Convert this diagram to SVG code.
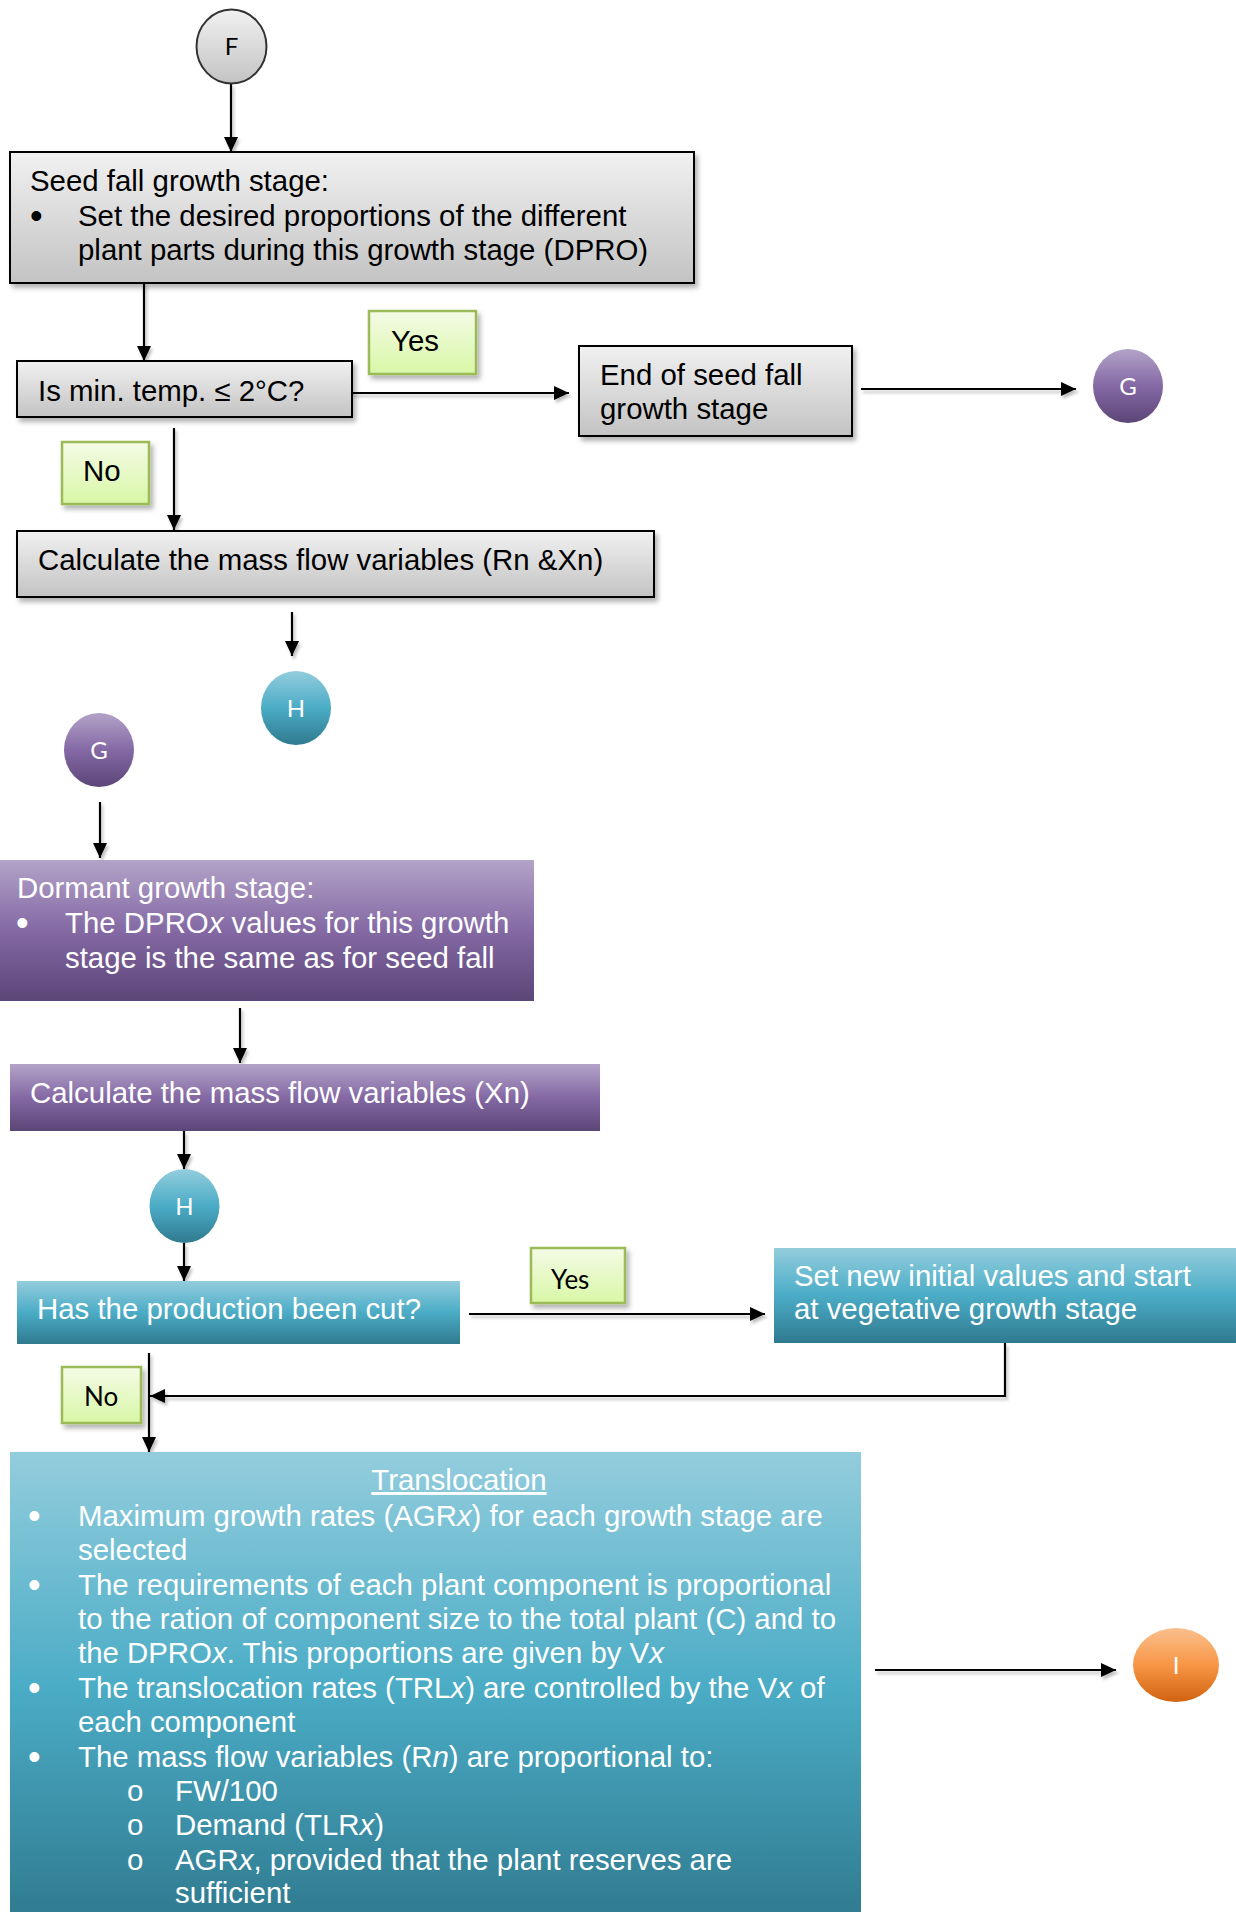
<svg xmlns="http://www.w3.org/2000/svg" width="1236" height="1912" viewBox="0 0 1236 1912">
  <defs>
    <linearGradient id="gGray" x1="0" y1="0" x2="0" y2="1">
      <stop offset="0" stop-color="#f1f1f1"/>
      <stop offset="1" stop-color="#c3c3c3"/>
    </linearGradient>
    <linearGradient id="gGreen" x1="0" y1="0" x2="0" y2="1">
      <stop offset="0" stop-color="#f4fbe6"/>
      <stop offset="1" stop-color="#d8f7a6"/>
    </linearGradient>
    <linearGradient id="gPurple" x1="0" y1="0" x2="0" y2="1">
      <stop offset="0" stop-color="#b3a3c8"/>
      <stop offset="0.5" stop-color="#8469a4"/>
      <stop offset="1" stop-color="#5c4577"/>
    </linearGradient>
    <linearGradient id="gTeal" x1="0" y1="0" x2="0" y2="1">
      <stop offset="0" stop-color="#93cddd"/>
      <stop offset="0.5" stop-color="#4bacc6"/>
      <stop offset="1" stop-color="#2f7a8f"/>
    </linearGradient>
    <linearGradient id="gOrange" x1="0" y1="0" x2="0" y2="1">
      <stop offset="0" stop-color="#fbc08e"/>
      <stop offset="0.5" stop-color="#f79646"/>
      <stop offset="1" stop-color="#d0630f"/>
    </linearGradient>
    <filter id="shadow" x="-10%" y="-10%" width="130%" height="140%">
      <feDropShadow dx="3" dy="4" stdDeviation="2.5" flood-color="#000" flood-opacity="0.3"/>
    </filter>
    <filter id="lineShadow" x="-5%" y="-50%" width="110%" height="200%">
      <feDropShadow dx="2" dy="3" stdDeviation="1.5" flood-color="#000" flood-opacity="0.25"/>
    </filter>
    <marker id="arrow" markerUnits="userSpaceOnUse" markerWidth="15" markerHeight="14" viewBox="0 0 15 14" refX="15" refY="7" orient="auto">
      <path d="M0,0 L15,7 L0,14 z" fill="#000"/>
    </marker>
    <style>
      .t { font-family: "Liberation Sans", Arial, sans-serif; font-size: 29.4px; }
      .b { font-family: "Liberation Sans", Arial, sans-serif; font-size: 36px; }
      .dark { fill: #000; }
      .light { fill: #fff; }
      .lbl { font-family: Lato, "Open Sans", sans-serif; font-size: 26px; fill: #000; }
      .circ { font-family: Lato, "Open Sans", sans-serif; font-size: 24px; text-anchor: middle; }
      .gray { fill: url(#gGray); stroke: #000; stroke-width: 2; filter: url(#shadow); }
      .green { fill: url(#gGreen); stroke: #9bbb59; stroke-width: 2.5; filter: url(#shadow); }
      .purple { fill: url(#gPurple); }
      .teal { fill: url(#gTeal); }
      .conn { fill: none; stroke: #000; stroke-width: 2.2; }
    </style>
  </defs>

  <!-- connectors -->
  <g id="connectors" filter="url(#lineShadow)">
    <line class="conn" x1="231" y1="84" x2="231" y2="152" marker-end="url(#arrow)"/>
    <line class="conn" x1="144" y1="283" x2="144" y2="361" marker-end="url(#arrow)"/>
    <line class="conn" x1="339" y1="393" x2="569" y2="393" marker-end="url(#arrow)"/>
    <line class="conn" x1="861" y1="389" x2="1076" y2="389" marker-end="url(#arrow)"/>
    <line class="conn" x1="174" y1="428" x2="174" y2="530" marker-end="url(#arrow)"/>
    <line class="conn" x1="292" y1="612" x2="292" y2="656" marker-end="url(#arrow)"/>
    <line class="conn" x1="100" y1="802" x2="100" y2="858" marker-end="url(#arrow)"/>
    <line class="conn" x1="240" y1="1008" x2="240" y2="1063" marker-end="url(#arrow)"/>
    <line class="conn" x1="184" y1="1131" x2="184" y2="1169" marker-end="url(#arrow)"/>
    <line class="conn" x1="184" y1="1243" x2="184" y2="1281" marker-end="url(#arrow)"/>
    <line class="conn" x1="469" y1="1314" x2="765" y2="1314" marker-end="url(#arrow)"/>
    <polyline class="conn" points="1005,1343 1005,1396 150,1396" marker-end="url(#arrow)"/>
    <line class="conn" x1="149" y1="1353" x2="149" y2="1452" marker-end="url(#arrow)"/>
    <line class="conn" x1="875" y1="1670" x2="1116" y2="1670" marker-end="url(#arrow)"/>
  </g>

  <!-- connector F -->
  <g id="node-F">
    <ellipse cx="231.5" cy="46.5" rx="35" ry="37" fill="url(#gGray)" stroke="#333" stroke-width="2"/>
    <text class="circ dark" x="231.5" y="55">F</text>
  </g>

  <!-- seed fall stage -->
  <g id="node-seedfall">
    <rect class="gray" x="10" y="152" width="684" height="131"/>
    <text class="t dark" x="30" y="191">Seed fall growth stage:</text>
    <text class="b dark" x="30" y="228">•</text>
    <text class="t dark" x="78" y="226">Set the desired proportions of the different</text>
    <text class="t dark" x="78" y="260">plant parts during this growth stage (DPRO)</text>
  </g>

  <g id="node-mintemp">
    <rect class="gray" x="17" y="361" width="335" height="56"/>
    <text class="t dark" x="38" y="401">Is min. temp. ≤ 2°C?</text>
  </g>

  <g id="label-yes1">
    <rect class="green" x="369" y="311" width="107" height="63"/>
    <text class="t dark" x="391" y="351">Yes</text>
  </g>

  <g id="node-endseedfall">
    <rect class="gray" x="579" y="346" width="273" height="90"/>
    <text class="t dark" x="600" y="385">End of seed fall</text>
    <text class="t dark" x="600" y="419">growth stage</text>
  </g>

  <g id="node-G1">
    <ellipse cx="1128" cy="386" rx="35" ry="37" fill="url(#gPurple)"/>
    <text class="circ light" x="1128" y="395">G</text>
  </g>

  <g id="label-no1">
    <rect class="green" x="62" y="442" width="87" height="62"/>
    <text class="t dark" x="83" y="481">No</text>
  </g>

  <g id="node-calc-rnxn">
    <rect class="gray" x="17" y="531" width="637" height="66"/>
    <text class="t dark" x="38" y="570">Calculate the mass flow variables (Rn &amp;Xn)</text>
  </g>

  <g id="node-H1">
    <ellipse cx="296" cy="708" rx="35" ry="37" fill="url(#gTeal)"/>
    <text class="circ light" x="296" y="717">H</text>
  </g>

  <g id="node-G2">
    <ellipse cx="99" cy="750" rx="35" ry="37" fill="url(#gPurple)"/>
    <text class="circ light" x="99" y="759">G</text>
  </g>

  <!-- dormant stage -->
  <g id="node-dormant">
    <rect class="purple" x="0" y="860" width="534" height="141"/>
    <text class="t light" x="17" y="898">Dormant growth stage:</text>
    <text class="b light" x="16" y="935">•</text>
    <text class="t light" x="65" y="933">The DPRO<tspan font-style="italic">x</tspan> values for this growth</text>
    <text class="t light" x="65" y="968">stage is the same as for seed fall</text>
  </g>

  <g id="node-calc-xn">
    <rect class="purple" x="10" y="1064" width="590" height="67"/>
    <text class="t light" x="30" y="1103">Calculate the mass flow variables (Xn)</text>
  </g>

  <g id="node-H2">
    <ellipse cx="184.5" cy="1206" rx="35" ry="37" fill="url(#gTeal)"/>
    <text class="circ light" x="184.5" y="1215">H</text>
  </g>

  <g id="node-cut">
    <rect class="teal" x="17" y="1281" width="443" height="63"/>
    <text class="t light" x="37" y="1319">Has the production been cut?</text>
  </g>

  <g id="label-yes2">
    <rect class="green" x="531" y="1248" width="94" height="55"/>
    <text class="lbl" x="551" y="1289">Yes</text>
  </g>

  <g id="node-reset">
    <rect class="teal" x="774" y="1248" width="462" height="95"/>
    <text class="t light" x="794" y="1286">Set new initial values and start</text>
    <text class="t light" x="794" y="1319">at vegetative growth stage</text>
  </g>

  <g id="label-no2">
    <rect class="green" x="62" y="1367" width="79" height="56"/>
    <text class="lbl" x="84" y="1406">No</text>
  </g>

  <!-- translocation -->
  <g id="node-translocation">
    <rect class="teal" x="10" y="1452" width="851" height="470"/>
    <text class="t light" x="459" y="1490" text-anchor="middle" text-decoration="underline">Translocation</text>
    <g class="light">
      <text class="b" x="28" y="1528">•</text>
      <text class="t" x="78" y="1526">Maximum growth rates (AGR<tspan font-style="italic">x</tspan>) for each growth stage are</text>
      <text class="t" x="78" y="1560">selected</text>
      <text class="b" x="28" y="1597">•</text>
      <text class="t" x="78" y="1595">The requirements of each plant component is proportional</text>
      <text class="t" x="78" y="1629">to the ration of component size to the total plant (C) and to</text>
      <text class="t" x="78" y="1663">the DPRO<tspan font-style="italic">x</tspan>. This proportions are given by V<tspan font-style="italic">x</tspan></text>
      <text class="b" x="28" y="1700">•</text>
      <text class="t" x="78" y="1698">The translocation rates (TRL<tspan font-style="italic">x</tspan>) are controlled by the V<tspan font-style="italic">x</tspan> of</text>
      <text class="t" x="78" y="1732">each component</text>
      <text class="b" x="28" y="1769">•</text>
      <text class="t" x="78" y="1767">The mass flow variables (R<tspan font-style="italic">n</tspan>) are proportional to:</text>
      <text class="t" x="127" y="1801" font-size="24">o</text>
      <text class="t" x="175" y="1801">FW/100</text>
      <text class="t" x="127" y="1835" font-size="24">o</text>
      <text class="t" x="175" y="1835">Demand (TLR<tspan font-style="italic">x</tspan>)</text>
      <text class="t" x="127" y="1870" font-size="24">o</text>
      <text class="t" x="175" y="1870">AGR<tspan font-style="italic">x</tspan>, provided that the plant reserves are</text>
      <text class="t" x="175" y="1903">sufficient</text>
    </g>
  </g>

  <g id="node-I">
    <ellipse cx="1176" cy="1665" rx="43" ry="37" fill="url(#gOrange)"/>
    <text class="circ light" x="1176" y="1674">I</text>
  </g>
</svg>
